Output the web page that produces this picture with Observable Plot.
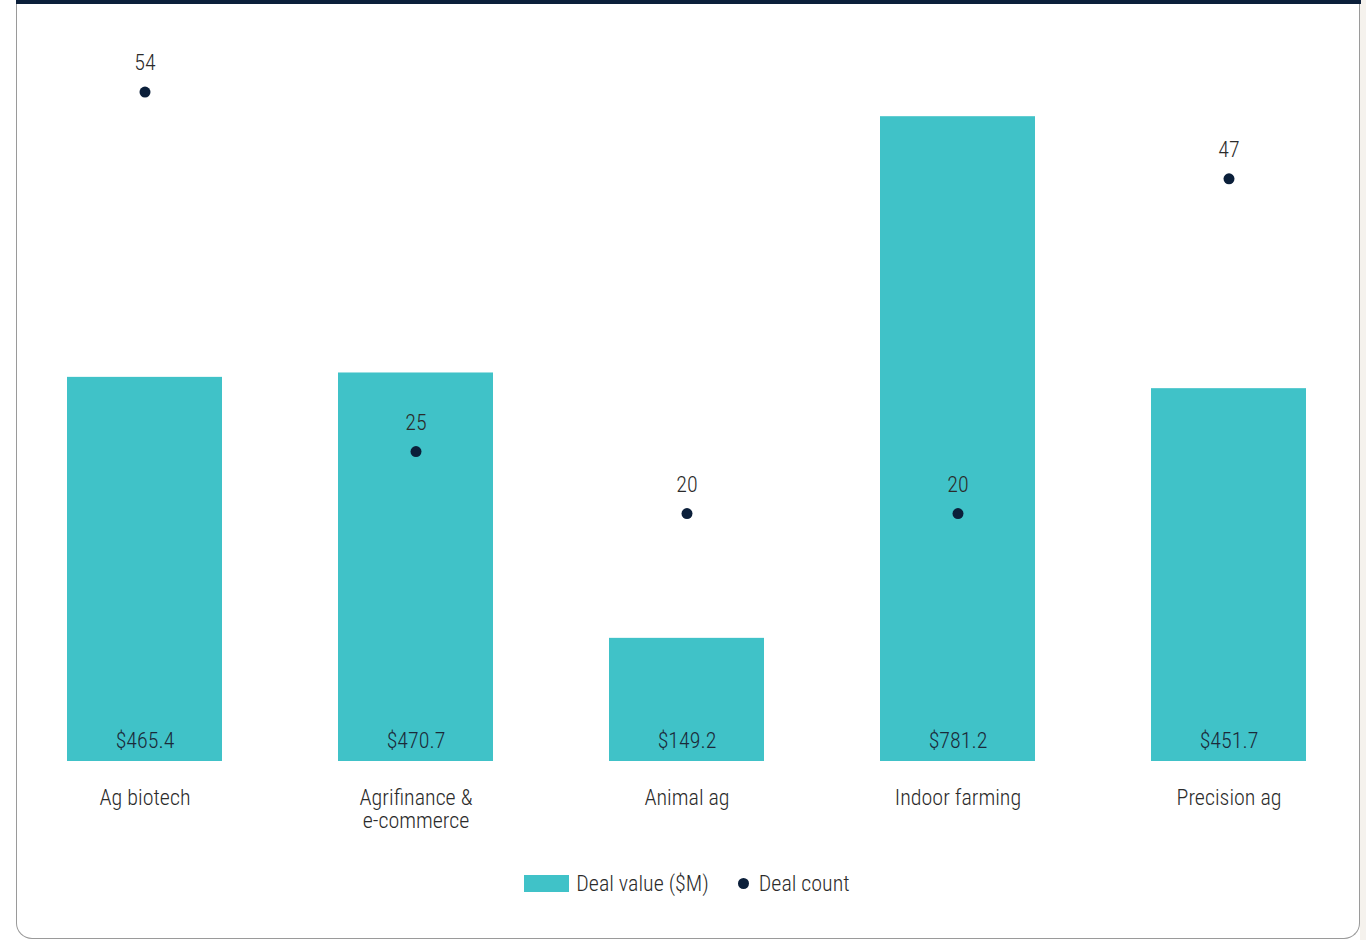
<!DOCTYPE html>
<html><head><meta charset="utf-8">
<script src="https://cdn.jsdelivr.net/npm/d3@7"></script>
<script src="https://cdn.jsdelivr.net/npm/@observablehq/plot@0.6"></script>
<style>
html,body{margin:0;padding:0;background:#fff;width:1366px;height:940px;overflow:hidden;font-family:Roboto,sans-serif;font-stretch:condensed;font-weight:300;}
#right{position:absolute;left:1360px;top:0;width:6px;height:940px;background:#f5f2ed;}
#card{position:absolute;left:16px;top:0;width:1342px;height:938px;background:#fff;border:1.5px solid #9a9a9a;border-top:none;border-radius:0 0 16px 16px;}
#topbar{position:absolute;left:16px;top:0;width:1345px;height:4px;background:#0b1f3a;}
#chart{position:absolute;left:0;top:0;}
#chart svg text{font-stretch:condensed;font-weight:300;}
#legend{position:absolute;top:871px;left:4px;width:1366px;display:flex;justify-content:center;align-items:center;font-size:22px;color:#2b2b2b;}
.sw{display:inline-block;width:45px;height:17px;background:#40c2c8;margin-right:7px;}
.dt{display:inline-block;width:11px;height:11px;border-radius:50%;background:#0b1f3a;margin-left:29px;margin-right:10px;}
</style></head>
<body>
<div id="right"></div>
<div id="card"></div>
<div id="topbar"></div>
<div id="chart"></div>
<div id="legend"><span class="sw"></span><span>Deal value ($M)</span><span class="dt"></span><span>Deal count</span></div>
<script>
const categories = ["Ag biotech", "Agrifinance &\ne-commerce", "Animal ag", "Indoor farming", "Precision ag"];
const dealValue = [465.4, 470.7, 149.2, 781.2, 451.7];
const dealCount = [54, 25, 20, 20, 47];

// count axis shares the baseline; 1 deal ≈ 15.02 $M of vertical space
const countToValue = 15.02;
const data = categories.map((c, i) => ({cat: c, value: dealValue[i], count: dealCount[i], cy: dealCount[i] * countToValue}));

const chart = Plot.plot({
  width: 1366,
  height: 860,
  margin: 0,
  style: {fontFamily: "Roboto, sans-serif", background: "transparent", overflow: "visible"},
  x: {domain: categories, range: [9.5, 1364.5], paddingInner: 0.428, paddingOuter: 0.214, axis: null},
  y: {domain: [0, 800], range: [761, 761 - 800 * 0.8254], axis: null},
  marks: [
    Plot.barY(data, {x: "cat", y: "value", fill: "#40c2c8"}),
    Plot.ruleY([0], {x1: categories[0], x2: categories[4], stroke: "#c9c9c9", strokeWidth: 1.5}),
    Plot.text(data, {x: "cat", y: 0, text: d => "$" + d.value.toFixed(1), dy: -21, fontSize: 22, fill: "#1b2a3a"}),
    Plot.text(data, {x: "cat", y: 0, text: "cat", dy: 27, lineAnchor: "top", lineHeight: 1.06, fontSize: 22, fill: "#2b2b2b"}),
    Plot.dot(data, {x: "cat", y: "cy", r: 5.5, fill: "#0b1f3a"}),
    Plot.text(data, {x: "cat", y: "cy", text: d => String(d.count), dy: -29, fontSize: 22, fill: "#2b2b2b"})
  ]
});
document.getElementById("chart").appendChild(chart);
</script>
</body></html>
